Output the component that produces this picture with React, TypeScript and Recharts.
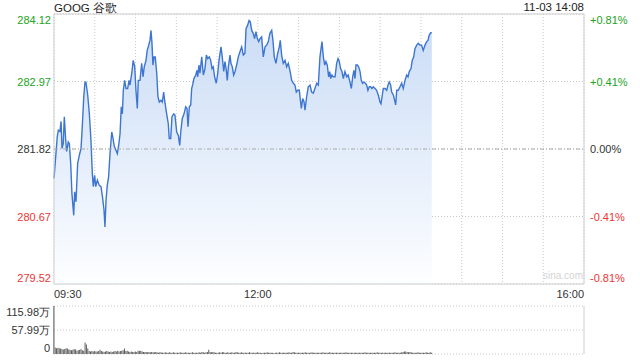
import React from 'react';
import {
  AreaChart,
  Area,
  BarChart,
  Bar,
  XAxis,
  YAxis,
  CartesianGrid,
  ReferenceLine,
  ReferenceArea,
} from 'recharts';

const prevClose = 281.82;
const priceTicks = [279.52, 280.67, 281.82, 282.97, 284.12];
const pctLabels = ['-0.81%', '-0.41%', '0.00%', '+0.41%', '+0.81%'];
const timeTicks = [0, 30, 60, 90, 120, 150, 180, 210, 240, 270, 300, 330, 360, 390];
const timeLabels: Record<number, string> = { 0: '09:30', 150: '12:00', 390: '16:00' };
const volumeTicks = [0, 57.99, 115.98];
const volumeLabels = ['0', '57.99万', '115.98万'];

// minutes since 09:30
const times = [
  0, 2.4, 3.2, 4.4, 5.2, 5.9, 6.8, 7.6, 8.6, 9.3,
  10.5, 11.3, 12.3, 13.2, 14.5, 15.2, 16.2, 17.4, 18.6, 19.9,
  20.8, 21.9, 22.8, 23.5, 24.8, 26.0, 27.2, 28.2, 28.9, 29.9,
  30.7, 31.9, 33.3, 34.6, 35.8, 36.8, 37.5, 38.3, 39.2, 40.2,
  41.2, 42.5, 43.2, 44.4, 45.6, 46.6, 47.6, 48.6, 49.5, 50.3,
  51.0, 52.0, 53.0, 54.2, 55.2, 55.9, 57.2, 58.3, 59.4, 60.3,
  61.3, 62.0, 63.3, 64.5, 65.5, 66.4, 67.7, 68.6, 69.7, 70.6,
  71.4, 72.1, 72.8, 73.6, 74.5, 75.6, 76.5, 77.5, 78.7, 79.7,
  80.7, 81.7, 82.9, 84.1, 84.8, 85.9, 86.8, 88.1, 89.0, 90.3,
  91.5, 92.5, 93.4, 94.4, 95.7, 96.9, 97.9, 98.6, 99.6, 100.6,
  101.3, 102.1, 103.0, 104.3, 105.2, 105.7, 106.7, 107.4, 108.7, 109.9,
  111.1, 112.1, 113.1, 114.3, 115.3, 116.3, 117.2, 118.2, 119.4, 120.5,
  121.4, 122.9, 123.8, 124.9, 125.8, 126.8, 127.5, 128.3, 129.5, 130.2,
  131.2, 132.2, 133.2, 134.4, 135.6, 136.9, 138.1, 139.3, 140.5, 141.3,
  142.5, 143.5, 144.4, 145.5, 146.6, 147.6, 148.6, 149.6, 150.6, 151.6,
  152.8, 154.0, 155.3, 156.5, 157.7, 158.9, 160.2, 161.1, 162.1, 163.3,
  164.6, 165.8, 166.5, 167.5, 168.7, 170.0, 171.2, 172.4, 173.6, 174.9,
  176.1, 177.3, 178.3, 179.3, 180.5, 182.0, 183.0, 184.0, 184.7, 185.9,
  187.1, 188.4, 189.6, 190.8, 192.0, 193.3, 194.5, 195.7, 196.5, 197.2,
  198.2, 199.2, 200.1, 201.1, 202.1, 202.9, 203.6, 204.5, 205.5, 206.8,
  208.0, 209.0, 209.9, 210.9, 211.9, 212.9, 214.1, 215.4, 216.5, 217.8,
  218.8, 219.8, 220.7, 221.5, 222.2, 223.2, 224.2, 225.2, 226.1, 227.1,
  228.1, 229.1, 230.1, 231.0, 232.0, 233.0, 234.0, 234.9, 236.2, 237.4,
  238.6, 239.9, 240.6, 241.6, 242.3, 243.6, 244.8, 245.8, 246.7, 247.7,
  248.5, 249.7, 250.7, 251.4, 252.2, 253.3, 254.6, 255.8, 257.0, 258.3,
  259.5, 260.5, 261.4, 262.7, 263.6, 264.7, 265.6, 266.9, 268.0, 269.3,
  270.5, 271.7, 273.0, 274.2, 275.2, 276.1, 277.2, 278,
];

const prices = [
  281.32, 282.03, 282.14, 282.12, 282.29, 281.83, 281.91, 282.37, 281.97, 281.78,
  281.94, 281.91, 281.57, 281.06, 280.69, 281.09, 280.92, 281.57, 281.71, 281.83,
  282.20, 282.71, 282.96, 282.96, 282.74, 282.42, 281.97, 281.40, 281.18, 281.37,
  281.18, 281.29, 281.20, 281.18, 280.98, 280.78, 280.49, 280.95, 281.20, 281.35,
  281.74, 282.11, 282.03, 281.86, 281.80, 281.74, 281.88, 282.08, 282.54, 282.42,
  282.82, 282.99, 282.85, 282.85, 282.99, 282.91, 283.11, 283.33, 283.22, 282.82,
  282.51, 282.99, 282.99, 283.28, 283.05, 283.22, 283.33, 283.50, 283.59, 283.67,
  283.84, 283.62, 283.25, 283.39, 283.39, 283.11, 282.71, 282.62, 282.65, 282.62,
  282.79, 282.60, 282.42, 282.25, 282.00, 282.00, 282.37, 282.42, 282.40, 282.11,
  282.05, 281.88, 282.14, 282.34, 282.42, 282.54, 282.51, 282.20, 282.54, 282.57,
  282.85, 282.92, 283.02, 283.08, 283.16, 283.05, 283.25, 283.11, 283.39, 283.08,
  283.19, 283.42, 283.36, 283.39, 283.33, 283.19, 283.22, 283.05, 282.94, 283.11,
  283.33, 283.56, 283.39, 283.14, 283.31, 283.16, 282.99, 283.22, 283.42, 283.28,
  283.22, 283.08, 283.14, 283.25, 283.39, 283.48, 283.56, 283.42, 283.45, 283.87,
  283.93, 284.01, 283.99, 283.84, 283.79, 283.70, 283.82, 283.70, 283.65, 283.70,
  283.73, 283.39, 283.56, 283.59, 283.65, 283.79, 283.84, 283.67, 283.39, 283.28,
  283.45, 283.56, 283.67, 283.42, 283.28, 283.33, 283.22, 283.28, 283.16, 282.99,
  282.94, 282.91, 282.79, 282.82, 282.82, 282.51, 282.68, 282.62, 282.48, 282.71,
  282.88, 282.91, 282.79, 282.77, 282.85, 282.94, 282.91, 283.39, 283.53, 283.65,
  283.39, 283.25, 283.31, 283.25, 283.05, 283.14, 283.02, 283.08, 283.05, 283.05,
  283.28, 283.36, 283.31, 283.19, 283.14, 283.02, 283.14, 283.05, 283.08, 282.96,
  282.85, 283.05, 283.16, 283.02, 283.25, 283.25, 283.22, 283.14, 282.99, 282.94,
  282.96, 282.94, 282.91, 282.82, 282.88, 282.88, 282.85, 282.88, 282.85, 282.82,
  282.74, 282.62, 282.59, 282.74, 282.85, 282.85, 282.82, 282.91, 282.96, 282.91,
  282.79, 282.74, 282.65, 282.57, 282.82, 282.82, 282.88, 282.94, 282.85, 282.99,
  283.08, 283.05, 283.14, 283.19, 283.33, 283.39, 283.53, 283.59, 283.62, 283.59,
  283.59, 283.50, 283.59, 283.65, 283.67, 283.76, 283.80, 283.80,
];

// per-minute volume, in 万 shares, starting at 09:30
const volumes = [
  115.98,
  16, 14, 15, 14, 13, 12, 11, 12, 14, 13,
  11, 10, 9, 10, 12, 11, 8, 9, 10, 12,
  9, 8, 28, 23, 13, 7, 6, 7, 6, 7,
  6, 6, 7, 10, 7, 6, 5, 6, 7, 6,
  5, 6, 5, 6, 7, 6, 8, 6, 7, 8,
  9, 13, 7, 8, 6, 5, 6, 5, 5, 6,
  5, 8, 7, 8, 6, 5, 5, 5, 4, 5,
  4, 5, 4, 4, 5, 4, 3, 4, 4, 3,
  3, 4, 3, 3, 4, 3, 3, 4, 3, 3,
  3, 3, 4, 3, 3, 3, 4, 3, 3, 3,
  3, 4, 3, 3, 3, 3, 4, 3, 5, 4,
  3, 4, 5, 10, 5, 4, 5, 4, 3, 3,
  3, 4, 3, 5, 4, 3, 3, 4, 3, 3,
  4, 3, 3, 5, 4, 3, 3, 4, 3, 3,
  3, 3, 3, 4, 3, 3, 3, 3, 3, 4,
  3, 3, 2, 3, 3, 3, 4, 3, 3, 3,
  3, 2, 3, 3, 3, 4, 3, 3, 3, 3,
  3, 3, 4, 3, 3, 5, 4, 3, 3, 3,
  3, 3, 3, 3, 4, 3, 3, 3, 3, 4,
  3, 3, 3, 3, 3, 3, 3, 4, 3, 3,
  3, 3, 4, 3, 3, 3, 3, 3, 3, 3,
  3, 3, 3, 3, 4, 3, 3, 3, 3, 3,
  3, 3, 3, 3, 3, 3, 3, 3, 4, 3,
  3, 3, 3, 3, 3, 3, 3, 4, 3, 3,
  3, 3, 3, 3, 3, 3, 3, 3, 3, 3,
  4, 3, 3, 3, 3, 4, 5, 6, 6, 5,
  4, 5, 4, 3, 3, 3, 3, 4, 3, 3,
  3, 3, 3, 4, 3, 3, 4, 3,
];

const priceData = times.map((t, i) => ({ t, p: prices[i] }));
const volumeData = volumes.map((v, i) => ({ t: i, v }));

const FONT = '"Liberation Sans", Arial, sans-serif';
const GREEN = '#22a322';
const RED = '#ee3333';
const TEXT = '#333';

const priceColor = (v: number) => (v > prevClose + 0.001 ? GREEN : v < prevClose - 0.001 ? RED : TEXT);

// first and last labels are pushed inside the plot like the original
const edgeDy = (index: number, count: number) => (index === 0 ? -2.5 : index === count - 1 ? 10 : 4);

const PriceTick = (props: any) => {
  const { x, y, payload, index } = props;
  return (
    <text x={x} y={y + edgeDy(index, priceTicks.length)} textAnchor="end" fontSize={11} fontFamily={FONT} fill={priceColor(payload.value)}>
      {payload.value.toFixed(2)}
    </text>
  );
};

const PctTick = (props: any) => {
  const { x, y, payload, index } = props;
  return (
    <text x={x} y={y + edgeDy(index, priceTicks.length)} textAnchor="start" fontSize={11} fontFamily={FONT} fill={priceColor(payload.value)}>
      {pctLabels[index]}
    </text>
  );
};

const TimeTick = (props: any) => {
  const { x, y, payload } = props;
  const label = timeLabels[payload.value];
  if (!label) return null;
  const anchor = payload.value === 0 ? 'start' : payload.value === 390 ? 'end' : 'middle';
  return (
    <text x={x} y={y + 12} textAnchor={anchor} fontSize={11} fontFamily={FONT} fill={TEXT}>
      {label}
    </text>
  );
};

const VolumeTick = (props: any) => {
  const { x, y, index } = props;
  return (
    <text x={x} y={y + edgeDy(index, volumeTicks.length)} textAnchor="end" fontSize={11} fontFamily={FONT} fill={TEXT}>
      {volumeLabels[index]}
    </text>
  );
};

export default function App() {
  return (
    <div style={{ position: 'absolute', left: 0, top: 0, width: 640, height: 360, background: '#fff', fontFamily: FONT }}>
      <div style={{ position: 'absolute', left: 54, top: 1, fontSize: 11.5, color: '#222' }}>GOOG 谷歌</div>
      <div style={{ position: 'absolute', right: 56, top: 1, fontSize: 11.5, color: '#222' }}>11-03 14:08</div>

      <div style={{ position: 'absolute', left: 0, top: 0 }}>
        <AreaChart width={640} height={306} data={priceData} margin={{ top: 14, right: 0, bottom: 0, left: 0 }}>
          <defs>
            <linearGradient id="priceFill" x1="0" y1="0" x2="0" y2="1">
              <stop offset="0%" stopColor="#cadcf6" />
              <stop offset="100%" stopColor="#fdfeff" />
            </linearGradient>
          </defs>
          <CartesianGrid yAxisId="left" stroke="#c8c8c8" strokeDasharray="1 2" />
          <XAxis
            dataKey="t"
            type="number"
            domain={[0, 390]}
            ticks={timeTicks}
            interval={0}
            height={22}
            tickLine={false}
            axisLine={false}
            tickSize={0}
            tick={<TimeTick />}
          />
          <YAxis
            yAxisId="left"
            width={54}
            domain={[priceTicks[0], priceTicks[priceTicks.length - 1]]}
            ticks={priceTicks}
            interval={0}
            allowDataOverflow
            tickLine={false}
            axisLine={false}
            tickSize={0}
            tickMargin={3}
            tick={<PriceTick />}
          />
          <YAxis
            yAxisId="right"
            orientation="right"
            width={56}
            domain={[priceTicks[0], priceTicks[priceTicks.length - 1]]}
            ticks={priceTicks}
            interval={0}
            allowDataOverflow
            tickLine={false}
            axisLine={false}
            tickSize={0}
            tickMargin={6}
            tick={<PctTick />}
          />
          <ReferenceLine yAxisId="left" y={prevClose} stroke="#aaa" strokeDasharray="4 2 1 2" />
          <Area
            yAxisId="left"
            type="linear"
            dataKey="p"
            stroke="#3d76d0"
            strokeWidth={1.4}
            fill="url(#priceFill)"
            fillOpacity={1}
            baseValue={priceTicks[0]}
            dot={false}
            activeDot={false}
            isAnimationActive={false}
          />
          <ReferenceArea
            yAxisId="left"
            x1={0}
            x2={390}
            y1={priceTicks[0]}
            y2={priceTicks[priceTicks.length - 1]}
            fill="none"
            stroke="#cfcfcf"
          />
        </AreaChart>
      </div>

      <div style={{ position: 'absolute', left: 543, top: 270, fontSize: 10, color: '#d4d4d4' }}>sina.com</div>

      <div style={{ position: 'absolute', left: 0, top: 300 }}>
        <BarChart width={640} height={60} data={volumeData} margin={{ top: 6, right: 56, bottom: 6, left: 0 }} barCategoryGap={0}>
          <CartesianGrid vertical={false} stroke="#c8c8c8" strokeDasharray="1 2" />
          <XAxis dataKey="t" type="number" domain={[0, 390]} hide />
          <YAxis
            width={54}
            domain={[0, volumeTicks[volumeTicks.length - 1]]}
            ticks={volumeTicks}
            interval={0}
            tickLine={false}
            axisLine={false}
            tickSize={0}
            tickMargin={4}
            tick={<VolumeTick />}
          />
          <ReferenceLine x={0} stroke="#999" />
          <ReferenceLine x={390} stroke="#cfcfcf" />
          <Bar dataKey="v" fill="#5e5e5e" barSize={1} isAnimationActive={false} />
        </BarChart>
      </div>
    </div>
  );
}
